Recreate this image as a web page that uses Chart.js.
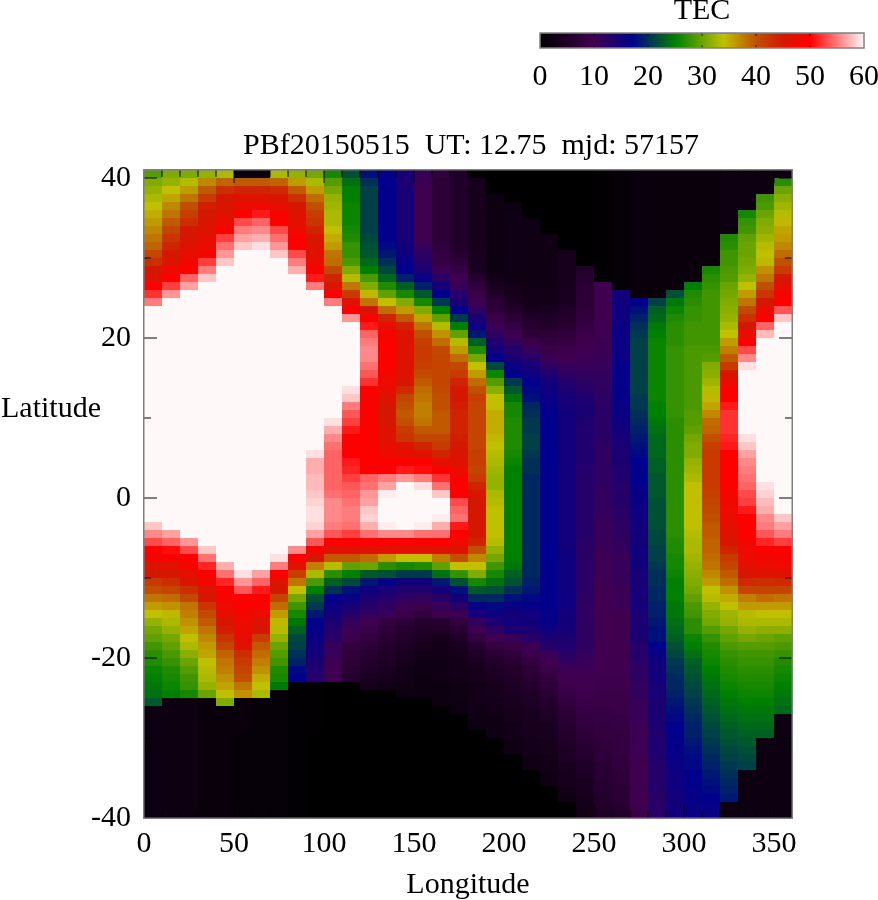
<!DOCTYPE html>
<html>
<head>
<meta charset="utf-8">
<title>TEC map</title>
<script src="https://cdn.jsdelivr.net/npm/chart.js@4"></script>
<style>
  html, body { margin: 0; padding: 0; background: #fff; }
  #mapChart { position: absolute; left: 0; top: 0; }
  #barChart { position: absolute; left: 500px; top: 0; }
</style>
</head>
<body>
<canvas id="mapChart" width="878" height="900"></canvas>
<canvas id="barChart" width="378" height="100"></canvas>
<script>
// TEC map, one list per longitude, values run from latitude 40 down to -40
const longitudes = [0, 10, 20, 30, 40, 50, 60, 70, 80, 90, 100, 110, 120, 130, 140, 150, 160, 170,
  180, 190, 200, 210, 220, 230, 240, 250, 260, 270, 280, 290, 300, 310, 320, 330, 340, 350];
const topLatitude = 40;

const lon000 = [29,31,32,33,34,35,36,37,38,39,
  41,43,45,46,50,52,55,60,60,60,
  60,60,60,60,60,60,60,60,60,60,
  60,60,60,60,60,60,60,60,60,60,
  60,60,60,60,58,55.5,53,50,48.5,46,
  45,42,40,38,36,34,32,30.5,29.5,28,
  27,26.5,25.5,25,24.5,24,22.5,2,2,2,
  2,2,2,2,2,2,2,2,2,2,
  2];
const lon010 = [31,32,34,35.5,37,38,39.5,41,42.5,44,
  45,46,48,50,52.5,56,60,60,60,60,
  60,60,60,60,60,60,60,60,60,60,
  60,60,60,60,60,60,60,60,60,60,
  60,60,60,60,60,56.5,54,50.5,49,46.5,
  45,43,41,38.5,36.5,34.5,33,32,30.5,29.5,
  28.5,27.5,26.5,26,25.5,25,2,2,2,2,
  2,2,2,2,2,2,2,2,2,2,
  2];
const lon020 = [31,33.5,36,38,40,41.5,43,45,45.5,46,
  47,48.5,49.5,54,56.5,60,60,60,60,60,
  60,60,60,60,60,60,60,60,60,60,
  60,60,60,60,60,60,60,60,60,60,
  60,60,60,60,60,60,56,53,50,48.5,
  47,45.5,43,40.5,38,37.5,36.5,35.5,34,33,
  31.5,30,29,28,27.5,26,2,2,2,2,
  2,2,2,2,2,2,2,2,2,2,
  2];
const lon030 = [32,37,39.5,42,44.5,45,45.5,46,47,47.5,
  48.5,52.5,55,58,60,60,60,60,60,60,
  60,60,60,60,60,60,60,60,60,60,
  60,60,60,60,60,60,60,60,60,60,
  60,60,60,60,60,60,60,58,54.5,51.5,
  49.5,48.5,46,45,42.5,40.5,39.5,38,37,36,
  35.5,34,33.5,33,32,30,1.5,1.5,1.5,1.5,
  1.5,1.5,1.5,1.5,1.5,1.5,1.5,1.5,1.5,1.5,
  1.5];
const lon040 = [33,39,43,45,45.5,46.5,47.5,49,52.5,54.5,
  56,58,60,60,60,60,60,60,60,60,
  60,60,60,60,60,60,60,60,60,60,
  60,60,60,60,60,60,60,60,60,60,
  60,60,60,60,60,60,60,60,60,57,
  54.5,51.5,50,49,48,47,45.5,44.5,42.5,41,
  39,38,37.5,36.5,35.5,34,31,1.5,1.5,1.5,
  1.5,1.5,1.5,1.5,1.5,1.5,1.5,1.5,1.5,1.5,
  1.5];
const lon050 = [1.5,39.5,44,46,47.5,49.5,53,55,56.5,58,
  60,60,60,60,60,60,60,60,60,60,
  60,60,60,60,60,60,60,60,60,60,
  60,60,60,60,60,60,60,60,60,60,
  60,60,60,60,60,60,60,60,60,60,
  59,56,53.5,50,49.5,48.5,48,47.5,47,46,
  43,42,41,40,38,36.5,1.5,1.5,1.5,1.5,
  1,1,1,1,1,1,1,1,1,1,
  1];
const lon060 = [1.5,39.5,44,46,48,51,54,55.5,57,59,
  60,60,60,60,60,60,60,60,60,60,
  60,60,60,60,60,60,60,60,60,60,
  60,60,60,60,60,60,60,60,60,60,
  60,60,60,60,60,60,60,60,60,60,
  56.5,54,51,49.5,49,47.5,46,45,41.5,39.5,
  38.5,37.5,36.5,35,34,33,1,1,1,1,
  1,1,1,1,1,1,1,1,1,1,
  1];
const lon070 = [33,39,43.5,45.5,47,49,50,53,54.5,56,
  58,60,60,60,60,60,60,60,60,60,
  60,60,60,60,60,60,60,60,60,60,
  60,60,60,60,60,60,60,60,60,60,
  60,60,60,60,60,60,60,60,59,55,
  50,46.5,45,41,38.5,36,34.5,33.5,32,30,
  29,28,26.5,26,24.5,1,1,1,1,1,
  1,1,1,1,1,1,1,1,1,1,
  1];
const lon080 = [32,36,39.5,43,45.5,46,46.5,48,49.5,50,
  53,55,57,60,60,60,60,60,60,60,
  60,60,60,60,60,60,60,60,60,60,
  60,60,60,60,60,60,60,60,60,60,
  60,60,60,60,60,60,60,55.5,50,46.5,
  41.5,38,34,30.5,28,26,24.5,23,21.5,21,
  20,19,17.5,17,0.5,0.5,0.5,0.5,0.5,0.5,
  0.5,0.5,0.5,0.5,0.5,0.5,0.5,0.5,0.5,0.5,
  0.5];
const lon090 = [30.5,33,36,38.5,40,41.5,42.5,44,45.5,46,
  46.5,47.5,49.5,51,55,60,60,60,60,60,
  60,60,60,60,60,60,60,60,60,60,
  60,60,60,60,60,59,57,57,57.5,57.5,
  58,58.5,59,59,58.5,56.5,53.5,49,45,37.5,
  33,28.5,25,22,20.5,18.5,17,16.5,16,15.5,
  15,14,13.5,13,0.5,0.5,0.5,0.5,0.5,0.5,
  0,0,0,0,0,0,0,0,0,0,
  0];
const lon100 = [26,29,30.5,32,32.5,33,33,34,35,36,
  38,38.5,40.5,44,46,50,55,60,60,60,
  60,60,60,60,60,60,60,60,60,60,
  60,59,57,55.5,54.5,54,54,54,54,54,
  54.5,55.5,55.5,55.5,55,53.5,50,46.5,39.5,33.5,
  27,23,20,17,16,15,14,13,12.5,11,
  11,10.5,10,10,0,0,0,0,0,0,
  0,0,0,0,0,0,0,0,0,0,
  0];
const lon110 = [22,24,25,25,25.5,25.5,25.5,26,26.5,27.5,
  27.5,28.5,31,33.5,38,42,46,50,56,60,
  60,60,60,60,60,60,60,59,58,55,
  53.5,52.5,51,50,50,50,51,51.5,52.5,53.5,
  54,54.5,55,55,54.5,52.5,50,46.5,39.5,29.5,
  25,21.5,18,16,14.5,13,11.5,10.5,9.5,8,
  7.5,7,6.5,6,0,0,0,0,0,0,
  0,0,0,0,0,0,0,0,0,0,
  0];
const lon120 = [18,20,21,21,21,21,21,21,21.5,22,
  22.5,23.5,25,28.5,31,34.5,38,45.5,49.5,51,
  54,55,55.5,55.5,54.5,53.5,52,50,49,49.5,
  49.5,49.5,49.5,49.5,49.5,49.5,50,50,54,54.5,
  56,56.5,58,58.5,57,54.5,50,46,38.5,30,
  22.5,18.5,15.5,14,13,11.5,10,9,8,7,
  6,5.5,5,4,3.5,0,0,0,0,0,
  0,0,0,0,0,0,0,0,0,0,
  0];
const lon130 = [16.5,17,17,17,17,17,17,17,17,17.5,
  18.5,20,21.5,23.5,26.5,29.5,34,38.5,44,47,
  49,49.5,49.5,49.5,49.5,48.5,48,47,46,45,
  45,45,46,46,47,48,49.5,50,55,56.5,
  59.5,60,60,60,59.5,55.5,50,46,36,27,
  22,16.5,14.5,13,12,11,8,7,6.5,5.5,
  5,4.5,4,3.5,3,0,0,0,0,0,
  0,0,0,0,0,0,0,0,0,0,
  0];
const lon140 = [14.5,14,14.5,14.5,14.5,14.5,14.5,14.5,14.5,15,
  15.5,16.5,17,19,23,26,31,36,39.5,44,
  46,46,46,46,46,46,45,43.5,41,40,
  39.5,40,42,42.5,46,47,49.5,51,56,60,
  60,60,60,60,60,55.5,50,46,34,26,
  20.5,15,13.5,12,10.5,9,7,6,5.5,4.5,
  4,3.5,3,3,2.5,2,0,0,0,0,
  0,0,0,0,0,0,0,0,0,0,
  0];
const lon150 = [11,10.5,10,10,10,10,10,10,10,11,
  12,13,14,16,19,22.5,26,31,35.5,38,
  40,41.5,42,42,41.5,40.5,39.5,38.5,38,37.5,
  37.5,38,39.5,41,44,46.5,49.5,50.5,55,59,
  60,60,60,60,59.5,54.5,50,46,34,26.5,
  20.5,15,13.5,11.5,9.5,8,5.5,5,4.5,3.5,
  3,2.5,2.5,2,2,2,0,0,0,0,
  0,0,0,0,0,0,0,0,0,0,
  0];
const lon160 = [8,7,7,7,7,7,7,7,7,7.5,
  8,8.5,10.5,12.5,14.5,17,20.5,25,29.5,33.5,
  36.5,38.5,40.5,41,41,41,41,40.5,40,40,
  39.5,39.5,39.5,41,42,44,47,49.5,52,54.5,
  58,60,60,59.5,57,54.5,50,46,37.5,29.5,
  24,18.5,14.5,12.5,11,9.5,6,5,3.5,3,
  3,2.5,2.5,2.5,2,2,2,0,0,0,
  0,0,0,0,0,0,0,0,0,0,
  0];
const lon170 = [5,5,5,5,5,5,5,5,5,5.5,
  6,7,8.5,10,11,13,14,17,20.5,25,
  29.5,33.5,36,38.5,40.5,42,44,45,45,44.5,
  44,44,44,44.5,45,45.5,46,47.5,49,50,
  50,53,54,54.5,51,50,48,46,40,34,
  27.5,22,18,15,12.5,10.5,8,6.5,5,4,
  3.5,3,3,3,2.5,2.5,2,2,0,0,
  0,0,0,0,0,0,0,0,0,0,
  0];
const lon180 = [0.5,3.5,3.5,3.5,3.5,3.5,3.5,3.5,3.5,3.5,
  4,4,4,6,7.5,9,10.5,12,14,15.5,
  18.5,23,26.5,30.5,34,36,38.5,40,41.5,41,
  41,41,41,41,41,41.5,41.5,41,42,44,
  45.5,45,45,45,45,45,44,40,37,34,
  31,26,22.5,19.5,16.5,14.5,11.5,10,8,6,
  5,4,3.5,3.5,3,3,3,2.5,2.5,2,
  0,0,0,0,0,0,0,0,0,0,
  0];
const lon190 = [0,0,0,2,2,2,2,2,2,2,
  2,2,2,3,4,5,6.5,7.5,9,10.5,
  12,13.5,15,17,21.5,25.5,29,31.5,34,34,
  35,35,35,34.5,34,33.5,33,32.5,32,32,
  33,33.5,34,34,34,34,33.5,32,30.5,28,
  26,24,22,19.5,17.5,15.5,14,12,10,8,
  6.5,5.5,4.5,4,3.5,3.5,3,3,2.5,2.5,
  2.5,0,0,0,0,0,0,0,0,0,
  0];
const lon200 = [0,0,0,0,2,2.5,2.5,2.5,2.5,2.5,
  2.5,2.5,2.5,2.5,3,3.5,4,5.5,7,8.5,
  10,11.5,13,14,16,17,20.5,22.5,24.5,26,
  26,26.5,26.5,26.5,26.5,26,25.5,25,25,25,
  25,25,25,25,25,25,25,25,25,24.5,
  23,22,20,18,16,15,15,14,11,9,
  7.5,6.5,5.5,5,4.5,4,4,3.5,3.5,3,
  3,2.5,2.5,0,0,0,0,0,0,0,
  0];
const lon210 = [0,0,0,0,0,0,2,2.5,2.5,2.5,
  2.5,2.5,2.5,2.5,2.5,3,3,3.5,5,6,
  7,9,11,13,14.5,15.5,17,17.5,18,19.5,
  20,20.5,20.5,21,21,20.5,20,20,19.5,19.5,
  19.5,19.5,19.5,19.5,19.5,19.5,19.5,19.5,19.5,19.5,
  19.5,19,18.5,17.5,16.5,15.5,15,14,12.5,10.5,
  9.5,8,7,6.5,5.5,5,4.5,4,4,3.5,
  3.5,3,3,2.5,2.5,0,0,0,0,0,
  0];
const lon220 = [0,0,0,0,0,0,0,0,2.5,2.5,
  2.5,2.5,2.5,2.5,2.5,3,3,4,4.5,5.5,
  7,8,9,10.5,12,13.5,15,15.5,16,16.5,
  17,17,17,17,17,17,17,17,17,17,
  17,17,17,17,17,17,17,17,17,17,
  17,17,17,17,17,16.5,16.5,15.5,14,13,
  11,10,9,8,7,6.5,5.5,5,4.5,4,
  4,3.5,3.5,3,3,2.5,2.5,0,0,0,
  0];
const lon230 = [0,0,0,0,0,0,0,0,0,0,
  3.5,3.5,3.5,3.5,3.5,4,4,5,5.5,6.5,
  7.5,8.5,9.5,10,11,12,13,14,14.5,14.5,
  15,15,15,15,15,15,15,15,15,15,
  15,15,15,15,15,15,15,15,15.5,15.5,
  15.5,15.5,15.5,15.5,15.5,15,15,14.5,14,13.5,
  12.5,11.5,10.5,10,9.5,8.5,8,7,6.5,6,
  5.5,5,4.5,4.5,4,3.5,3.5,3,2.5,0,
  0];
const lon240 = [0,0,0,0,0,0,0,0,0,0,
  0,0,5.5,6,6.5,7,7,7,7.5,8.5,
  9,10,10,10.5,11,11.5,12,13,13.5,14,
  14,13.5,13.5,13.5,13.5,13.5,13.5,13,13,13,
  13,13,13,13,13,13,12.5,12.5,12.5,12.5,
  12.5,12.5,12.5,12,12,12,12,12,12,12,
  11.5,11,10.5,10,10,9.5,9,8.5,8,7.5,
  7,6.5,6,5.5,5,4.5,4,4,3.5,3,
  3];
const lon250 = [0.5,0.5,0.5,0.5,0.5,0.5,0.5,0.5,0.5,0.5,
  0.5,0.5,0.5,0.5,10,10,10,10,10,10,
  10,10.5,10.5,11,11,11.5,11.5,12,12,12.5,
  12.5,12.5,12.5,12.5,12,12,12,12,12,12,
  11.5,11.5,11.5,11,11,11,11,10.5,10.5,10.5,
  10.5,10,10,10,10,10,10,10,10,10,
  10,10,10,9.5,9.5,9,9,8.5,8.5,8,
  8,7.5,7,7,6.5,6.5,6,6,5.5,5,
  4.5];
const lon260 = [1,1,1,1,1,1,1,1,1,1,
  1,1,1,1,1,15,15.5,15.5,15.5,16,
  16,16,16,16,16.5,16.5,16.5,16.5,16.5,16,
  16,15.5,15,14.5,14.5,14,14,13.5,13.5,13,
  13,13,12.5,12.5,12,12,11.5,11.5,11,11,
  11,11,10.5,10.5,10.5,10,10,10,10,10,
  10,10,10,9.5,9.5,9,9,9,8.5,8.5,
  8,8,8,7.5,7.5,7,7,6.5,6.5,6,
  5.5];
const lon270 = [1.5,1.5,1.5,1.5,1.5,1.5,1.5,1.5,1.5,1.5,
  1.5,1.5,1.5,1.5,1.5,1.5,17,18,19,20,
  20.5,21,21,21,21,21,21,21,20.5,20.5,
  20,19.5,19,18.5,18,17.5,17,17,17,16.5,
  16,16,15.5,15.5,15,15,15,15,15,15,
  14.5,14.5,14.5,14.5,14.5,14,14,14,14,13,
  13,12.5,12,12,11.5,11.5,11,11,11,10.5,
  10.5,10.5,10.5,10,10,10,10,10,10,9.5,
  9];
const lon280 = [1.5,1.5,1.5,1.5,1.5,1.5,1.5,1.5,1.5,1.5,
  1.5,1.5,1.5,1.5,1.5,1.5,21,23,23.5,24.5,
  25,25.5,25.5,25.5,25.5,25.5,25.5,25.5,25.5,25,
  25,24.5,24,23.5,23.5,23.5,23,23,22.5,22.5,
  22.5,22,22,22,22,21.5,21.5,21,21,20.5,
  20,20,19.5,19.5,19,19,18.5,18,18,17,
  16,15.5,15,15,14.5,14.5,14,14,14,14,
  13.5,13.5,13.5,13.5,13,13,13,13,12.5,12.5,
  12.5];
const lon290 = [1.5,1.5,1.5,1.5,1.5,1.5,1.5,1.5,1.5,1.5,
  1.5,1.5,1.5,1.5,1.5,22,24.5,25.5,26.5,27,
  27,27,27.5,27.5,27.5,27.5,27.5,27.5,27.5,27.5,
  27.5,27,27,27,27,27,27,27,27,27,
  27,27,27,27,27,27,26.5,26.5,26,26,
  25.5,25,25,25,24.5,24.5,24,23.5,23,22,
  21.5,20.5,20,19.5,19.5,19,18.5,18,17.5,17,
  17,16.5,16.5,16,16,15.5,15.5,15.5,15,15,
  15];
const lon300 = [1.5,1.5,1.5,1.5,1.5,1.5,1.5,1.5,1.5,1.5,
  1.5,1.5,1.5,1.5,25,26.5,27,27.5,27.5,28,
  28,28,28.5,28.5,28.5,28.5,28.5,28.5,28.5,28.5,
  29,29,29.5,30.5,31,31,32,32.5,33,34,
  34,34,34,34,34,33.5,33,33,32.5,32,
  31.5,31,30.5,29.5,28.5,28,27,27,25.5,25,
  24,23,22.5,22,21.5,21,20.5,20,19.5,19,
  19,18.5,18,17.5,17.5,17,17,16.5,16.5,16,
  16];
const lon310 = [1.5,1.5,1.5,1.5,1.5,1.5,1.5,1.5,1.5,1.5,
  1.5,1.5,26,27,27.5,28,28,28,28,28,
  28,28,28.5,29,31,31.5,32.5,33.5,34.5,35.5,
  37,38.5,39,40,41.5,42,42,42,42,42,
  41.5,41,40.5,40,39.5,39.5,39,39,38.5,38,
  37,36,34,33.5,32,31,30.5,29,27.5,26.5,
  26,25.5,25,24.5,24,23.5,23,22.5,22,21.5,
  21,20.5,20,19.5,19,18.5,18,17.5,17,16.5,
  16];
const lon320 = [2,2,2,2,2,2,2,2,26.5,27,
  28,28,28.5,29,30,30.5,31,31.5,32,33,
  34,36,37.5,39.5,42,45,47.5,49.5,50,51,
  52,52,52,51.5,51,50,50,50,50,49.5,
  49,48.5,48,47.5,47,46,45.5,44,42,41,
  39.5,38.5,36.5,35,34,32.5,32,30.5,29.5,28.5,
  27.5,27,26.5,26,25.5,25,24.5,24,23.5,23,
  22.5,22,21.5,21,20.5,20,19.5,19,18.5,2,
  2];
const lon330 = [2,2,2,2,2,26,27.5,28,29.5,30,
  30,30.5,31,32,34,36,38,40.5,43,45,
  47.5,50,53,55.5,59,60,60,60,60,60,
  60,60,60,59,58,56.5,55.5,55,54.5,54,
  53,52.5,51,50,50,49.5,48.5,48,47.5,46.5,
  45.5,43.5,41,37.5,36,33.5,33,32,30.5,29,
  28,27.5,27,26.5,26,25.5,25,24.5,24,23.5,
  23,22.5,22,21.5,21,2,2,2,2,2,
  2];
const lon340 = [2,2,2,28,28.5,30,31,31.5,32.5,33.5,
  34,34.5,36.5,38,40,42.5,45,47.5,50,54,
  57.5,60,60,60,60,60,60,60,60,60,
  60,60,60,60,60,60,60,60,60,59,
  58.5,57.5,57,55.5,55,53.5,51.5,50,48.5,47.5,
  46,43,41,38.5,36,34,33,31.5,30,29,
  28,27.5,27,26.5,26,25.5,25,24.5,24,23.5,
  23,2,2,2,2,2,2,2,2,2,
  2];
const lon350 = [2,27,30,31.5,32.5,33.5,34.5,35.5,36,37,
  38.5,40,42,45,47,49,50,53.5,58,60,
  60,60,60,60,60,60,60,60,60,60,
  60,60,60,60,60,60,60,60,60,60,
  60,60,60,58,56.5,55,52.5,50,49,48,
  46,43.5,41,38,36,34,33,31.5,29.5,28.5,
  27.5,26.5,26,25.5,25,24.5,24,23.5,2,2,
  2,2,2,2,2,2,2,2,2,2,
  2];

const tecColumns = [lon000, lon010, lon020, lon030, lon040, lon050, lon060, lon070, lon080, lon090,
  lon100, lon110, lon120, lon130, lon140, lon150, lon160, lon170, lon180, lon190,
  lon200, lon210, lon220, lon230, lon240, lon250, lon260, lon270, lon280, lon290,
  lon300, lon310, lon320, lon330, lon340, lon350];

// Colour scale
const paletteLevels = [0, 10, 17, 25, 34, 40, 45, 50, 60];
const paletteColors = [[0, 0, 0], [64, 0, 80], [0, 0, 140], [0, 128, 0], [192, 192, 0],
  [192, 80, 0], [212, 24, 0], [255, 0, 0], [255, 248, 248]];

const latMinorTicks = [-30, -10, 10, 30];
const barTickValues = [10, 20, 30, 40, 50];

const serif = "'Liberation Serif', 'Times New Roman', serif";
const frameColor = "#808080";

function tecColor(v) {
  for (let i = 1; i < paletteLevels.length; i++) {
    if (v <= paletteLevels[i]) {
      const t = (v - paletteLevels[i - 1]) / (paletteLevels[i] - paletteLevels[i - 1]);
      const a = paletteColors[i - 1], b = paletteColors[i];
      return `rgb(${a.map((c, k) => Math.round(c + (b[k] - c) * t)).join(",")})`;
    }
  }
  return "rgb(255,248,248)";
}

// Cells are stored at their centre so the scales place them
const cellPoints = [];
longitudes.forEach((lon, c) => {
  tecColumns[c].forEach((v, r) => {
    cellPoints.push({ x: lon + 5, y: topLatitude - r + 0.5, v: v });
  });
});

const heatCells = {
  id: "heatCells",
  beforeDatasetsDraw(chart) {
    const { ctx, scales } = chart;
    const w = scales.x.getPixelForValue(10) - scales.x.getPixelForValue(0);
    const h = scales.y.getPixelForValue(0) - scales.y.getPixelForValue(1);
    const points = chart.getDatasetMeta(0).data;
    ctx.save();
    points.forEach((el, i) => {
      // snap to whole pixels so no seams show between rows
      const left = Math.round(el.x - w / 2), top = Math.round(el.y - h / 2);
      ctx.fillStyle = tecColor(cellPoints[i].v);
      ctx.fillRect(left, top, Math.round(el.x + w / 2) - left, Math.round(el.y + h / 2) - top);
    });
    ctx.restore();
  }
};

// gnuplot style frame with inward ticks on all four sides
const mapFrame = {
  id: "mapFrame",
  afterLayout(chart) {
    // title sits a little right of the plot centre in the original
    chart.titleBlock.left += 3;
    chart.titleBlock.right += 3;
  },
  afterDatasetsDraw(chart) {
    const { ctx, scales, chartArea: a } = chart;
    ctx.save();
    ctx.globalCompositeOperation = "multiply";
    ctx.strokeStyle = frameColor;
    ctx.lineWidth = 2;
    ctx.beginPath();
    longitudes.forEach(lon => {
      if (lon === 0) return;
      const x = scales.x.getPixelForValue(lon);
      const len = lon % 50 === 0 ? 13 : 7;
      ctx.moveTo(x, a.top); ctx.lineTo(x, a.top + len);
      ctx.moveTo(x, a.bottom); ctx.lineTo(x, a.bottom - len);
    });
    scales.y.ticks.forEach(t => {
      const y = scales.y.getPixelForValue(t.value);
      ctx.moveTo(a.left, y); ctx.lineTo(a.left + 13, y);
      ctx.moveTo(a.right, y); ctx.lineTo(a.right - 13, y);
    });
    latMinorTicks.forEach(lat => {
      const y = scales.y.getPixelForValue(lat);
      ctx.moveTo(a.left, y); ctx.lineTo(a.left + 7, y);
      ctx.moveTo(a.right, y); ctx.lineTo(a.right - 7, y);
    });
    ctx.stroke();
    ctx.globalCompositeOperation = "source-over";
    ctx.lineWidth = 1.5;
    ctx.strokeRect(a.left - 0.25, a.top - 0.25, a.right - a.left + 0.5, a.bottom - a.top + 0.5);

    ctx.fillStyle = "#000";
    ctx.font = `30px ${serif}`;
    ctx.textAlign = "left";
    ctx.textBaseline = "middle";
    ctx.fillText("Latitude", 1, 409);
    ctx.restore();
  }
};

new Chart(document.getElementById("mapChart"), {
  type: "scatter",
  data: { datasets: [{ data: cellPoints, pointRadius: 0, pointHoverRadius: 0 }] },
  options: {
    responsive: false,
    animation: false,
    events: [],
    layout: { autoPadding: false, padding: { left: 0, right: 86, top: 0, bottom: 0 } },
    plugins: {
      legend: { display: false },
      tooltip: { enabled: false },
      title: {
        display: true,
        fullSize: false,
        text: "PBf20150515  UT: 12.75  mjd: 57157",
        color: "#000",
        font: { family: serif, size: 30, weight: "normal", lineHeight: 1.2 },
        padding: { top: 128, bottom: 6 }
      }
    },
    scales: {
      x: {
        type: "linear",
        min: 0,
        max: 360,
        grid: { display: false },
        border: { display: false },
        afterFit(scale) { scale.height = 82; },
        ticks: {
          stepSize: 50,
          includeBounds: false,
          maxRotation: 0,
          color: "#000",
          padding: 0,
          font: { family: serif, size: 30 }
        },
        title: {
          display: true,
          text: "Longitude",
          color: "#000",
          font: { family: serif, size: 30, weight: "normal" },
          padding: { top: 0, bottom: -3 }
        }
      },
      y: {
        type: "linear",
        min: -40,
        max: 41,
        grid: { display: false },
        border: { display: false },
        afterFit(scale) { scale.width = 144; },
        ticks: {
          stepSize: 20,
          includeBounds: false,
          color: "#000",
          padding: 5,
          font: { family: serif, size: 30 }
        }
      }
    }
  },
  plugins: [heatCells, mapFrame]
});

// Colour bar above the map
const barFill = {
  id: "barFill",
  beforeDatasetsDraw(chart) {
    const { ctx, scales, chartArea: a } = chart;
    const grad = ctx.createLinearGradient(scales.x.getPixelForValue(0), 0, scales.x.getPixelForValue(60), 0);
    paletteLevels.forEach((lv, i) => {
      grad.addColorStop(lv / 60, `rgb(${paletteColors[i].join(",")})`);
    });
    ctx.save();
    ctx.fillStyle = grad;
    ctx.fillRect(a.left, a.top, a.right - a.left, a.bottom - a.top);
    ctx.restore();
  },
  afterDatasetsDraw(chart) {
    const { ctx, scales, chartArea: a } = chart;
    ctx.save();
    ctx.globalCompositeOperation = "multiply";
    ctx.strokeStyle = frameColor;
    ctx.lineWidth = 1.5;
    ctx.beginPath();
    barTickValues.forEach(v => {
      const x = scales.x.getPixelForValue(v);
      ctx.moveTo(x, a.top); ctx.lineTo(x, a.top + 3);
      ctx.moveTo(x, a.bottom); ctx.lineTo(x, a.bottom - 3);
    });
    ctx.stroke();
    ctx.globalCompositeOperation = "source-over";
    ctx.lineWidth = 1.5;
    ctx.strokeRect(a.left, a.top, a.right - a.left, a.bottom - a.top);
    ctx.restore();
  }
};

new Chart(document.getElementById("barChart"), {
  type: "scatter",
  data: { datasets: [{ data: paletteLevels.map(v => ({ x: v, y: 0 })), pointRadius: 0, pointHoverRadius: 0 }] },
  options: {
    responsive: false,
    animation: false,
    events: [],
    layout: { autoPadding: false, padding: { left: 40, right: 14, top: 0, bottom: 0 } },
    plugins: {
      legend: { display: false },
      tooltip: { enabled: false },
      title: {
        display: true,
        fullSize: false,
        text: "TEC",
        color: "#000",
        font: { family: serif, size: 30, weight: "normal", lineHeight: 1 },
        padding: { top: -4, bottom: 7 }
      }
    },
    scales: {
      x: {
        type: "linear",
        min: 0,
        max: 60,
        grid: { display: false },
        border: { display: false },
        afterFit(scale) { scale.height = 52; scale.paddingLeft = 0; scale.paddingRight = 0; },
        ticks: {
          stepSize: 10,
          maxRotation: 0,
          color: "#000",
          padding: 3,
          font: { family: serif, size: 30 }
        }
      },
      y: { display: false, min: -1, max: 1 }
    }
  },
  plugins: [barFill]
});
</script>
</body>
</html>
